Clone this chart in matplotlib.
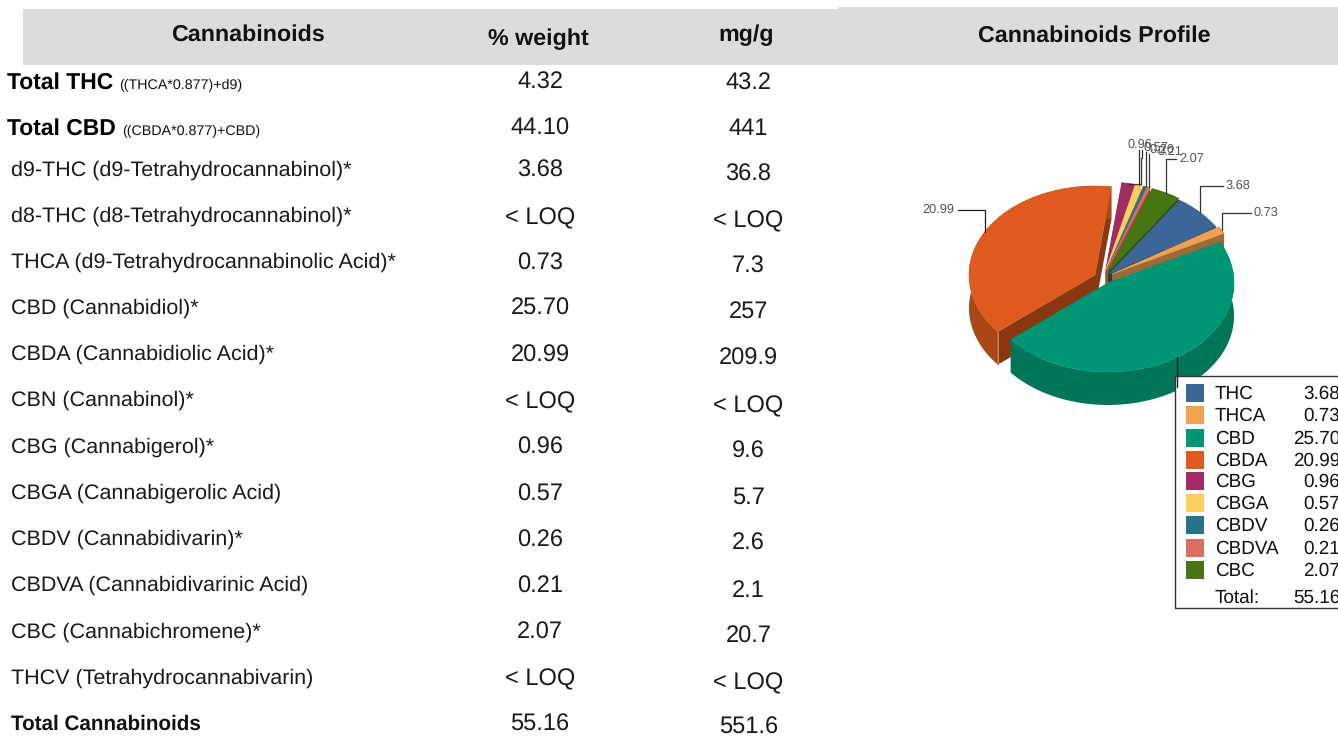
import numpy as np
import matplotlib
matplotlib.use('Agg')
import matplotlib.pyplot as plt
from matplotlib.patches import Polygon, Rectangle

plt.rcParams['font.family'] = ['Liberation Sans', 'DejaVu Sans']
plt.rcParams['text.hinting'] = 'no_hinting'

# table contents
row_names = [
    'Total THC', 'Total CBD',
    'd9-THC (d9-Tetrahydrocannabinol)*', 'd8-THC (d8-Tetrahydrocannabinol)*',
    'THCA (d9-Tetrahydrocannabinolic Acid)*', 'CBD (Cannabidiol)*',
    'CBDA (Cannabidiolic Acid)*', 'CBN (Cannabinol)*', 'CBG (Cannabigerol)*',
    'CBGA (Cannabigerolic Acid)', 'CBDV (Cannabidivarin)*',
    'CBDVA (Cannabidivarinic Acid)', 'CBC (Cannabichromene)*',
    'THCV (Tetrahydrocannabivarin)', 'Total Cannabinoids',
]
row_pct = ['4.32', '44.10', '3.68', '< LOQ', '0.73', '25.70', '20.99', '< LOQ',
           '0.96', '0.57', '0.26', '0.21', '2.07', '< LOQ', '55.16']
row_mg = ['43.2', '441', '36.8', '< LOQ', '7.3', '257', '209.9', '< LOQ',
          '9.6', '5.7', '2.6', '2.1', '20.7', '< LOQ', '551.6']
row_notes = {0: '((THCA*0.877)+d9)', 1: '((CBDA*0.877)+CBD)'}

# pie contents
pie_labels = ['THC', 'THCA', 'CBD', 'CBDA', 'CBG', 'CBGA', 'CBDV', 'CBDVA', 'CBC']
pie_values = [3.68, 0.73, 25.70, 20.99, 0.96, 0.57, 0.26, 0.21, 2.07]
pie_total = '55.16'

# layout, in picture pixels
name_y = [83, 129, 170, 216, 262, 308, 354, 400, 447, 493, 539, 585, 632, 678, 724]
pct_y = [83, 129, 171, 218, 264, 309, 356, 402, 448, 495, 541, 587, 633, 679, 725]
mg_y = [84, 129, 175, 221, 267, 313, 359, 406, 452, 498, 544, 591, 637, 683, 728]
legend_y = [393, 415, 437.5, 459.5, 481, 503, 525, 548, 570]

colors = ['#3B6697', '#F0A151', '#009673', '#DE5A1E', '#A02C62',
          '#FFCE5C', '#277489', '#DA6E60', '#477511']
wall_colors = ['#2A4A70', '#9C6A39', '#007558', '#A94716', '#74204A',
               '#B8943F', '#1C5463', '#9E5046', '#2F4D0F']
inner_colors = ['#223C5C', '#9C6A39', '#007558', '#8A3812', '#74204A',
                '#B8943F', '#1C5463', '#9E5046', '#2F4D0F']
apex = [(1109, 274), (1112, 274), (1108, 283), (1095, 275), (1105.5, 271),
        (1105.5, 271), (1106, 271), (1106, 271), (1108, 272)]
draw_order = [4, 5, 6, 7, 8, 0, 1, 3, 2]
label_pos = [(1226, 186), (1254, 213), None, (922, 210), (1128, 145),
             (1143, 148), (1150, 150), (1157, 152), (1179, 159)]
RX, RY, DEPTH = 126, 89, 33
START = 34

fig = plt.figure(figsize=(13.38, 7.36), dpi=100)
ax = fig.add_axes([0, 0, 1, 1])
ax.set_xlim(0, 1338)
ax.set_ylim(736, 0)
ax.axis('off')

# header bands
ax.add_patch(Rectangle((23, 9), 815, 56, fc='#DCDCDC', ec='none'))
ax.add_patch(Rectangle((838, 7), 500, 58, fc='#DCDCDC', ec='none'))
for x, y, s in [(248, 35, 'Cannabinoids'), (538.5, 39, '% weight'),
                (746, 35, 'mg/g'), (1094, 36, 'Cannabinoids Profile')]:
    ax.text(x, y, s, ha='center', va='center', fontsize=16.75, fontweight='bold', color='#111111')

# rows
for i, name in enumerate(row_names):
    if i < 2:
        ax.text(7, name_y[i], name, va='center', fontsize=16.5, fontweight='bold', color='black')
        note_x = 119 if i == 0 else 122
        ax.text(note_x, name_y[i] + 2, row_notes[i], va='center', fontsize=9.2 * 122 / 109, color='#111111')
    elif i == len(row_names) - 1:
        ax.text(11, name_y[i], name, va='center', fontsize=14.9, fontweight='bold', color='#111111')
    else:
        ax.text(11, name_y[i], name, va='center', fontsize=15.45, color='#1a1a1a')
    ax.text(540, pct_y[i], row_pct[i], ha='center', va='center', fontsize=17, color='#1a1a1a')
    ax.text(748.5, mg_y[i], row_mg[i], ha='center', va='center', fontsize=17, color='#1a1a1a')


def rim(center, deg):
    rad = np.radians(deg)
    return center[0] + RX * np.sin(rad), center[1] - RY * np.cos(rad)


# slice angles clockwise from the top of the ellipse
total = sum(pie_values)
edges = START + np.cumsum([0] + pie_values) / total * 360

for i in draw_order:
    a0, a1 = edges[i], edges[i + 1]
    cx, cy = apex[i]
    arc = np.array([rim(apex[i], d) for d in np.linspace(a0, a1, max(int(a1 - a0), 2) * 2)])
    drop = np.array([0, DEPTH])
    for end in (arc[0], arc[-1]):
        quad = [(cx, cy), end, end + drop, (cx, cy + DEPTH)]
        ax.add_patch(Polygon(quad, fc=inner_colors[i], ec='none'))
    ax.add_patch(Polygon(np.vstack([arc, (arc + drop)[::-1]]), fc=wall_colors[i], ec='none'))
    ax.add_patch(Polygon(np.vstack([[(cx, cy)], arc]), fc=colors[i], ec=colors[i], lw=0.4))
    if i == 3:
        ax.plot([arc[0][0], arc[0][0]], [arc[0][1], arc[0][1] + DEPTH], color='#C98A68', lw=0.7)

# leader lines and value labels
for i, pos in enumerate(label_pos):
    ax_x, ax_y = rim(apex[i], (edges[i] + edges[i + 1]) / 2)
    if i == 2:
        # the label of this slice sits behind the legend box
        ax.plot([ax_x, ax_x], [ax_y, ax_y + 30], color='#222222', lw=1)
        continue
    if i == 4:
        ax.plot([ax_x, 1141, 1141, 1142, 1142], [ax_y, ax_y, 158, 158, 150], color='#333333', lw=0.9)
    elif i in (5, 6, 7):
        ax.plot([ax_x, ax_x], [ax_y, pos[1] + 2], color='#333333', lw=0.9)
    elif i == 3:
        ax.plot([ax_x, ax_x, pos[0] + 36], [ax_y, pos[1], pos[1]], color='#222222', lw=0.9)
    else:
        ax.plot([ax_x, ax_x, pos[0] - 3], [ax_y, pos[1], pos[1]], color='#333333', lw=0.9)
    ax.text(pos[0], pos[1], f'{pie_values[i]:.2f}', va='center', fontsize=9.2, color='#555555')

# legend box, cut by the right edge of the picture
ax.add_patch(Rectangle((1175, 376), 180, 232, fc='white', ec='#333333', lw=1, clip_on=True))
for i, name in enumerate(pie_labels):
    ax.add_patch(Rectangle((1186, legend_y[i] - 9), 18, 18, fc=colors[i], ec='none'))
    ax.text(1215, legend_y[i] + 1, name, va='center', fontsize=13.6, color='#111111')
    ax.text(1340, legend_y[i] + 1, f'{pie_values[i]:.2f}', ha='right', va='center', fontsize=13.6, color='#111111')
ax.text(1215, 598, 'Total:', va='center', fontsize=13.6, color='#111111')
ax.text(1340, 598, pie_total, ha='right', va='center', fontsize=13.6, color='#111111')

fig.savefig('out.png', dpi=100)
